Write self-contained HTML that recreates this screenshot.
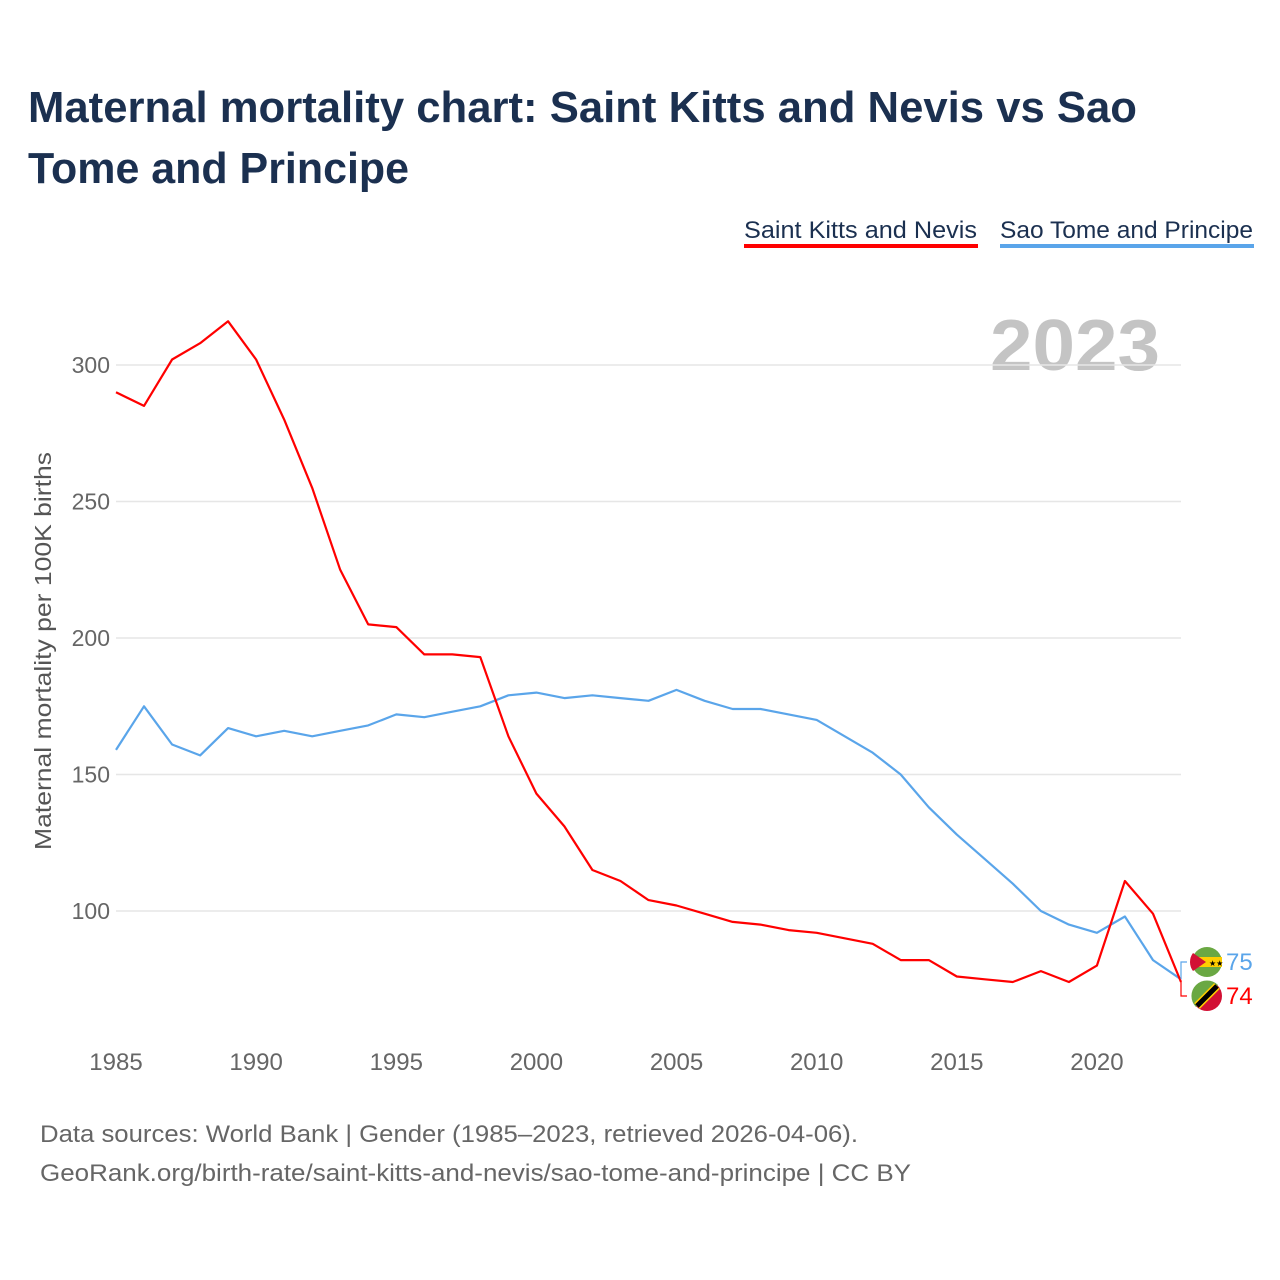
<!DOCTYPE html>
<html><head><meta charset="utf-8">
<style>
html,body{margin:0;padding:0;background:#fff;}
svg{display:block;font-family:"Liberation Sans",sans-serif;}
</style></head>
<body>
<svg id="chart" width="1280" height="1280" viewBox="0 0 1280 1280">
  <text x="28" y="122" font-size="44" font-weight="bold" fill="#1b3050" textLength="1109" lengthAdjust="spacingAndGlyphs">Maternal mortality chart: Saint Kitts and Nevis vs Sao</text>
  <text x="28" y="183" font-size="44" font-weight="bold" fill="#1b3050" textLength="381" lengthAdjust="spacingAndGlyphs">Tome and Principe</text>

  <g>
    <g>
      <text x="744" y="238" font-size="24" fill="#1b3050" textLength="233" lengthAdjust="spacingAndGlyphs">Saint Kitts and Nevis</text>
      <rect x="744" y="244" width="234" height="4" fill="#ff0000"/>
    </g>
    <g>
      <text x="1000" y="238" font-size="24" fill="#1b3050" textLength="253" lengthAdjust="spacingAndGlyphs">Sao Tome and Principe</text>
      <rect x="1000" y="244" width="254" height="4" fill="#5aa5ea"/>
    </g>
  </g>

  <text x="1160" y="370" font-size="72" font-weight="bold" fill="#c4c4c4" text-anchor="end" textLength="170" lengthAdjust="spacingAndGlyphs">2023</text>

  <g id="grid"></g>
  <g id="yticks"></g>
  <g id="xticks"></g>
  <text transform="translate(51,651) rotate(-90)" font-size="23" fill="#555" text-anchor="middle" textLength="398" lengthAdjust="spacingAndGlyphs">Maternal mortality per 100K births</text>
  <g id="lines"></g>
  <g id="endlabels"></g>

  <text x="40" y="1142" font-size="24" fill="#666" textLength="818" lengthAdjust="spacingAndGlyphs">Data sources: World Bank | Gender (1985–2023, retrieved 2026-04-06).</text>
  <text x="40" y="1181" font-size="24" fill="#666" textLength="871" lengthAdjust="spacingAndGlyphs">GeoRank.org/birth-rate/saint-kitts-and-nevis/sao-tome-and-principe | CC BY</text>
</svg>
<script>
const years = [1985,1986,1987,1988,1989,1990,1991,1992,1993,1994,1995,1996,1997,1998,1999,2000,2001,2002,2003,2004,2005,2006,2007,2008,2009,2010,2011,2012,2013,2014,2015,2016,2017,2018,2019,2020,2021,2022,2023];
const kittsValues = [290,285,302,308,316,302,280,255,225,205,204,194,194,193,164,143,131,115,111,104,102,99,96,95,93,92,90,88,82,82,76,75,74,78,74,80,111,99,74];
const saoTomeValues = [159,175,161,157,167,164,166,164,166,168,172,171,173,175,179,180,178,179,178,177,181,177,174,174,172,170,164,158,150,138,128,119,110,100,95,92,98,82,75];
const yTickValues = [100,150,200,250,300];
const xTickValues = [1985,1990,1995,2000,2005,2010,2015,2020];

const NS = "http://www.w3.org/2000/svg";
const x = yr => 116 + (yr - 1985) * (1181 - 116) / 38;
const y = v => 911 - (v - 100) * 2.73;
function mk(tag, attrs, parent){const e=document.createElementNS(NS,tag);for(const k in attrs)e.setAttribute(k,attrs[k]);parent.appendChild(e);return e;}

const grid=document.getElementById('grid'), yt=document.getElementById('yticks'), xt=document.getElementById('xticks');
yTickValues.forEach(v=>{
  const l=mk('line',{x1:116,x2:1181,y1:y(v),y2:y(v),stroke:'#e6e6e6','stroke-width':1.5},grid);
  
  
  const t=mk('text',{x:110,y:y(v)+8,'font-size':23,fill:'#666','text-anchor':'end'},yt);
  t.textContent=v;
  
  
});
xTickValues.forEach(v=>{
  const t=mk('text',{x:x(v),y:1070,'font-size':24,fill:'#666','text-anchor':'middle'},xt);
  t.textContent=v;
  
  
});
const lines=document.getElementById('lines');
function drawLine(vals,color,name){
  const d=vals.map((v,i)=>(i?'L':'M')+x(years[i]).toFixed(1)+','+y(v).toFixed(1)).join(' ');
  const p=mk('path',{d:d,fill:'none',stroke:color,'stroke-width':2.2,'stroke-linejoin':'round'},lines);
  
  
}
drawLine(saoTomeValues,'#5aa5ea','line-sao-tome');
drawLine(kittsValues,'#ff0000','line-saint-kitts');

const el=document.getElementById('endlabels');
const lastX=x(years[years.length-1]);
const sv=saoTomeValues[saoTomeValues.length-1], kv=kittsValues[kittsValues.length-1];
const sy=962, ky=996;
mk('path',{d:`M${lastX},${y(sv)} L${lastX},${sy} L${lastX+6},${sy}`,fill:'none',stroke:'#5aa5ea','stroke-width':1.2},el);
mk('path',{d:`M${lastX},${y(kv)} L${lastX},${ky} L${lastX+6},${ky}`,fill:'none',stroke:'#ff0000','stroke-width':1.2},el);
const f1=mk('g',{},el);


mk('circle',{cx:1207,cy:sy,r:15,fill:'#6aa843'},f1);
mk('rect',{x:1192,y:sy-5,width:30,height:10,fill:'#ffce00'},f1);
mk('path',{d:`M1193,${sy-9} L1206,${sy} L1193,${sy+9} A15,15 0 0 1 1193,${sy-9}Z`,fill:'#d21034'},f1);
mk('text',{x:1209,y:sy+4,'font-size':8,fill:'#000'},f1).textContent='★★';
const f2=mk('g',{},el);


mk('circle',{cx:1207,cy:ky,r:15,fill:'#d21034'},f2);
mk('path',{d:`M1196,${ky+11} A15,15 0 0 1 1218,${ky-11}Z`,fill:'#6aa843'},f2);
mk('line',{x1:1197,y1:ky+10,x2:1217,y2:ky-10,stroke:'#ffce00','stroke-width':8},f2);
mk('line',{x1:1197,y1:ky+10,x2:1217,y2:ky-10,stroke:'#000','stroke-width':5},f2);
const t1=mk('text',{x:1226,y:sy+8,'font-size':24,fill:'#5aa5ea'},el);
t1.textContent=sv;


const t2=mk('text',{x:1226,y:ky+8,'font-size':24,fill:'#ff0000'},el);
t2.textContent=kv;


</script>
</body></html>
